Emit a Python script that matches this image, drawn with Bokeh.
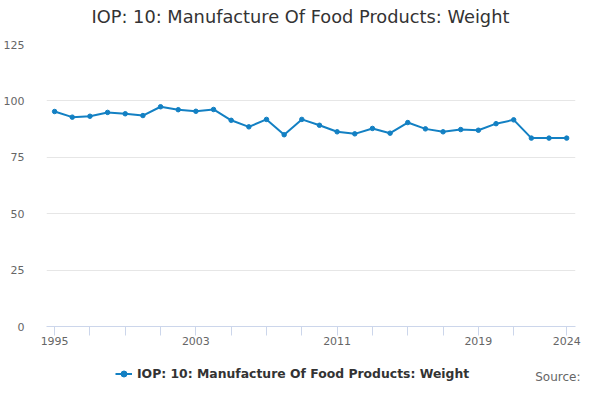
from bokeh.plotting import figure
from bokeh.layouts import column
from bokeh.models import FixedTicker, Range1d, Legend, LegendItem, Title, Label
from bokeh.embed import file_html
from bokeh.resources import INLINE

years = list(range(1995, 2025))
values = [95.3, 92.8, 93.2, 94.9, 94.3, 93.5, 97.4, 96.1, 95.4, 96.2,
          91.4, 88.5, 91.8, 85.0, 91.8, 89.2, 86.3, 85.4, 87.8, 85.7,
          90.4, 87.6, 86.3, 87.3, 87.0, 89.9, 91.6, 83.5, 83.5, 83.5]
x_ticks = [1995, 1997, 1999, 2001, 2003, 2005, 2007, 2009, 2011, 2013,
           2015, 2017, 2019, 2021, 2024]
x_labels = ["1995", "", "", "", "2003", "", "", "", "2011", "", "",
            "", "2019", "", "2024"]
y_ticks = [0, 25, 50, 75, 100, 125]
title_text = "IOP: 10: Manufacture Of Food Products: Weight"
series_name = "IOP: 10: Manufacture Of Food Products: Weight"
source_text = "Source:"

FONT = "DejaVu Sans"
COLOR = "#1380c3"
W = 584
H_MAIN = 351
H_FOOT = 33

# ---------------- main chart ----------------
p = figure(width=W, height=H_MAIN, output_backend="svg", toolbar_location=None,
           x_range=Range1d(1994.54, 2024.5), y_range=Range1d(0, 125),
           min_border_left=38, min_border_right=9, min_border_top=44,
           min_border_bottom=25)
p.frame_align = False
p.outline_line_color = None
p.background_fill_color = "white"
p.border_fill_color = "white"

p.title.text = title_text
p.title.align = "left"
p.title.offset = 45
p.title.standoff = 0
p.title.vertical_align = "bottom"
p.title.text_font = FONT
p.title.text_font_size = "17.8px"
p.title.text_font_style = "normal"
p.title.text_color = "#333333"
p.add_layout(Title(text=" ", text_font_size="1px", standoff=15), "above")

p.line(years, values, line_color=COLOR, line_width=2)
p.scatter(years, values, size=4.5, fill_color=COLOR, line_color=COLOR)

xa = p.xaxis[0]
xa.ticker = FixedTicker(ticks=x_ticks)
xa.major_label_overrides = {t: l for t, l in zip(x_ticks, x_labels)}
xa.axis_line_color = "#ccd6eb"
xa.major_tick_line_color = "#ccd6eb"
xa.major_tick_out = 9
xa.major_tick_in = 0
xa.minor_tick_line_color = None
xa.major_label_standoff = 1
xa.major_label_text_font = FONT
xa.major_label_text_font_size = "11px"
xa.major_label_text_color = "#666666"

ya = p.yaxis[0]
ya.ticker = FixedTicker(ticks=y_ticks)
ya.axis_line_color = None
ya.major_tick_line_color = None
ya.minor_tick_line_color = None
ya.major_label_standoff = 16
ya.major_label_text_font = FONT
ya.major_label_text_font_size = "11px"
ya.major_label_text_color = "#666666"

p.xgrid.grid_line_color = None
p.ygrid.grid_line_color = "#e6e6e6"
p.ygrid.ticker = FixedTicker(ticks=y_ticks)

# ---------------- footer: legend + source ----------------
f = figure(width=W, height=H_FOOT, output_backend="svg", toolbar_location=None,
           x_range=Range1d(0, W), y_range=Range1d(0, H_FOOT),
           x_axis_type=None, y_axis_type=None,
           min_border_left=0, min_border_right=0, min_border_top=0,
           min_border_bottom=0)
f.frame_align = False
f.outline_line_color = None
f.grid.visible = False
f.background_fill_color = "white"
f.border_fill_color = "white"

# legend key renderers (series data lies outside this footer's ranges)
key_line = f.line(years, values, line_color=COLOR, line_width=2)
key_pts = f.scatter(years, values, size=4.5, fill_color=COLOR, line_color=COLOR)

legend = Legend(items=[LegendItem(label=series_name, renderers=[key_line, key_pts])],
                orientation="horizontal", location=(115, 3.5),
                label_text_font=FONT, label_text_font_size="12.4px",
                label_text_font_style="bold", label_text_color="#333333",
                glyph_width=17, glyph_height=15, label_standoff=5,
                padding=0, margin=0, spacing=0,
                border_line_color=None, background_fill_alpha=0)
f.add_layout(legend)

src = Label(x=580, y=8, text=source_text, text_align="right",
            text_baseline="middle", text_font=FONT, text_font_size="12px",
            text_color="#666666")
f.add_layout(src)

layout = column(p, f, spacing=0)
open("out.html", "w").write(file_html(layout, INLINE))
